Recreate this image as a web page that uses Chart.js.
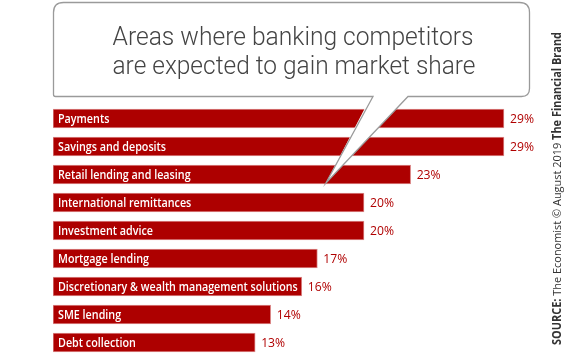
<!DOCTYPE html>
<html>
<head>
<meta charset="utf-8">
<script src="https://cdn.jsdelivr.net/npm/chart.js@4/dist/chart.umd.min.js"></script>
<style>
  html, body { margin: 0; padding: 0; background: #ffffff; }
  #wrap { width: 585px; height: 358px; position: relative; }
</style>
</head>
<body>
<div id="wrap"><canvas id="c" width="585" height="358"></canvas></div>
<script>
const categories = [
  "Payments",
  "Savings and deposits",
  "Retail lending and leasing",
  "International remittances",
  "Investment advice",
  "Mortgage lending",
  "Discretionary & wealth management solutions",
  "SME lending",
  "Debt collection"
];
const values = [29, 29, 23, 20, 20, 17, 16, 14, 13];
const valueLabels = values.map(v => v + "%");
const titleLines = ["Areas where banking competitors", "are expected to gain market share"];
const sourceParts = [
  { text: "SOURCE:", bold: true },
  { text: " The Economist \u00A9 August 2019 ", bold: false },
  { text: "The Financial Brand", bold: true }
];

const labelPlugin = {
  id: "barLabels",
  afterDatasetsDraw(chart) {
    const ctx = chart.ctx;
    const meta = chart.getDatasetMeta(0);
    ctx.save();
    meta.data.forEach((bar, i) => {
      const left = bar.base;
      const right = bar.x;
      ctx.textBaseline = "middle";
      ctx.textAlign = "left";
      ctx.fillStyle = "#ffffff";
      ctx.font = "600 12.5px 'Open Sans', Lato, sans-serif";
      const w = ctx.measureText(categories[i]).width;
      const maxW = Math.min(right - left - 9, w * 0.86);
      ctx.fillText(categories[i], left + 5, bar.y + 0.5, maxW);
      ctx.fillStyle = "#b00000";
      ctx.font = "400 13px 'Open Sans', Lato, sans-serif";
      ctx.fillText(valueLabels[i], right + 6, bar.y + 1, 24);
    });
    ctx.restore();
  }
};

const bubblePlugin = {
  id: "bubble",
  afterDraw(chart) {
    const ctx = chart.ctx;
    const L = 53.5, T = 2.5, R = 529.5, B = 96.5;
    const rTL = 10, rTR = 10, rBR = 8, rBL = 2;
    const tailL = 373, tailR = 408, tipX = 326, tipY = 183;
    ctx.save();
    ctx.beginPath();
    ctx.moveTo(tailL - 1, B - 2);
    ctx.lineTo(tipX, tipY);
    ctx.lineTo(tailR + 1, B - 2);
    ctx.closePath();
    ctx.fillStyle = "#ffffff";
    ctx.fill();
    ctx.beginPath();
    ctx.moveTo(L + rTL, T);
    ctx.lineTo(R - rTR, T);
    ctx.quadraticCurveTo(R, T, R, T + rTR);
    ctx.lineTo(R, B - rBR);
    ctx.quadraticCurveTo(R, B, R - rBR, B);
    ctx.lineTo(tailR, B);
    ctx.lineTo(tipX, tipY);
    ctx.lineTo(tailL, B);
    ctx.lineTo(L + rBL, B);
    ctx.quadraticCurveTo(L, B, L, B - rBL);
    ctx.lineTo(L, T + rTL);
    ctx.quadraticCurveTo(L, T, L + rTL, T);
    ctx.closePath();
    ctx.fillStyle = "#ffffff";
    ctx.fill();
    ctx.strokeStyle = "#9a9a9a";
    ctx.lineWidth = 1.3;
    ctx.lineJoin = "miter";
    ctx.stroke();
    ctx.fillStyle = "#444444";
    ctx.textAlign = "center";
    ctx.textBaseline = "alphabetic";
    ctx.font = "300 26px Roboto, 'Open Sans', sans-serif";
    ctx.fillText(titleLines[0], 293, 45, 361);
    ctx.fillText(titleLines[1], 294, 74, 363);
    ctx.restore();

    ctx.save();
    ctx.translate(561, 345);
    ctx.rotate(-Math.PI / 2);
    ctx.textBaseline = "alphabetic";
    ctx.textAlign = "left";
    const fonts = { true: "700 11.5px 'Open Sans', sans-serif", false: "400 11.5px 'Open Sans', sans-serif" };
    let total = 0;
    sourceParts.forEach(p => { ctx.font = fonts[p.bold]; total += ctx.measureText(p.text).width; });
    const s = 313 / total;
    ctx.scale(s, 1);
    let x = 0;
    ctx.fillStyle = "#333333";
    sourceParts.forEach(p => {
      ctx.font = fonts[p.bold];
      ctx.fillText(p.text, x, 0);
      x += ctx.measureText(p.text).width;
    });
    ctx.restore();
  }
};

new Chart(document.getElementById("c"), {
  type: "bar",
  data: {
    labels: categories,
    datasets: [{
      data: values,
      backgroundColor: "#ad0000",
      borderColor: "#dc8a8a",
      borderWidth: 1,
      borderSkipped: false,
      barThickness: 19
    }]
  },
  options: {
    indexAxis: "y",
    responsive: false,
    animation: false,
    devicePixelRatio: 1,
    layout: { padding: { left: 53, right: 65.5, top: 104.5, bottom: 1.5 } },
    scales: {
      x: { display: false, min: 0, max: 30 },
      y: { display: false }
    },
    plugins: {
      legend: { display: false },
      tooltip: { enabled: false }
    }
  },
  plugins: [labelPlugin, bubblePlugin]
});
</script>
</body>
</html>
